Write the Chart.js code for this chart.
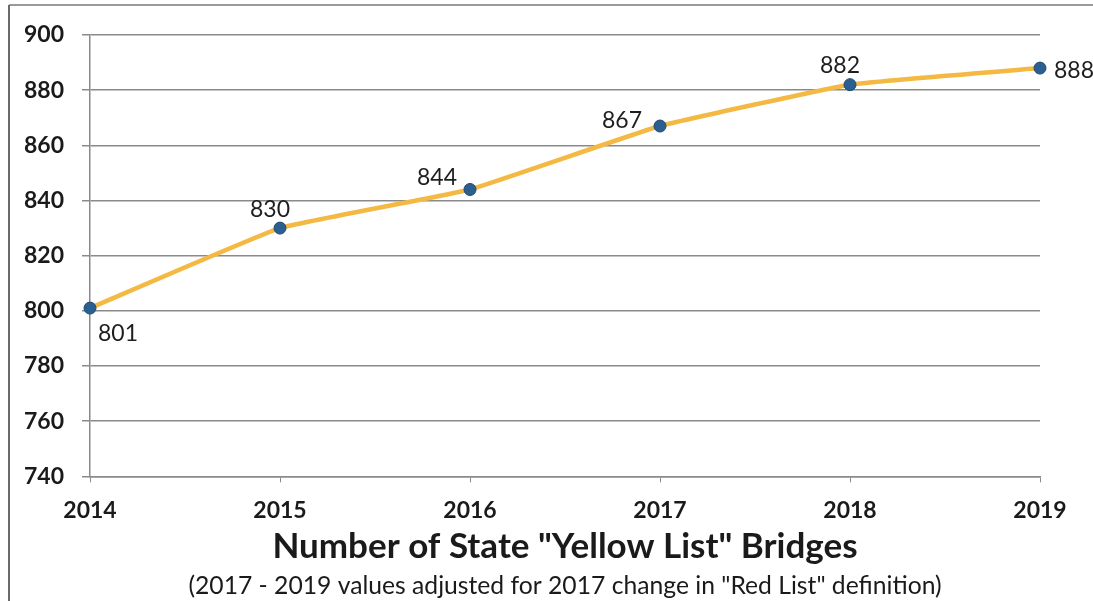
<!DOCTYPE html>
<html>
<head>
<meta charset="utf-8">
<title>Yellow List Bridges</title>
<script src="https://cdn.jsdelivr.net/npm/chart.js@4/dist/chart.umd.min.js"></script>
<style>
    html, body { margin: 0; padding: 0; background: #fff; }
    #wrap { width: 1093px; height: 601px; position: relative; }
</style>
</head>
<body>
<div id="wrap"><canvas id="bridgesChart"></canvas></div>
<script>
// chart data
const years = ['2014', '2015', '2016', '2017', '2018', '2019'];
const bridgeCounts = [801, 830, 844, 867, 882, 888];
const yTicks = [740, 760, 780, 800, 820, 840, 860, 880, 900];

// where each value label sits relative to its point
const labelPlacement = ['below-right', 'above', 'above-left', 'left', 'above', 'right'];

const FONT = 'Lato, "Open Sans", sans-serif';

// draws the value next to every point
const valueLabels = {
    id: 'valueLabels',
    afterDatasetsDraw(chart) {
        const ctx = chart.ctx;
        const meta = chart.getDatasetMeta(0);
        ctx.save();
        ctx.font = '23px ' + FONT;
        ctx.fillStyle = '#1e1e1e';
        ctx.textBaseline = 'middle';
        meta.data.forEach((pt, i) => {
            const text = String(chart.data.datasets[0].data[i]);
            let x = pt.x, y = pt.y;
            switch (labelPlacement[i]) {
                case 'below-right':
                    ctx.textAlign = 'left'; x += 8; y += 25; break;
                case 'above':
                    ctx.textAlign = 'center'; x -= 10; y -= 19; break;
                case 'above-left':
                    ctx.textAlign = 'right'; x -= 13; y -= 12; break;
                case 'left':
                    ctx.textAlign = 'right'; x -= 18; y -= 5; break;
                case 'right':
                    ctx.textAlign = 'left'; x += 14; y += 2; break;
            }
            ctx.fillText(text, x, y);
        });
        ctx.restore();
    }
};

// white page with the frame lines
const frame = {
    id: 'frame',
    beforeDraw(chart) {
        const ctx = chart.ctx;
        ctx.save();
        ctx.fillStyle = '#fff';
        ctx.fillRect(0, 0, chart.width, chart.height);
        ctx.lineWidth = 2;
        ctx.strokeStyle = '#9a9a9a';
        ctx.beginPath();
        ctx.moveTo(9, 5);
        ctx.lineTo(chart.width, 5);
        ctx.stroke();
        ctx.strokeStyle = '#6a6a6a';
        ctx.beginPath();
        ctx.moveTo(9, 5);
        ctx.lineTo(9, chart.height);
        ctx.stroke();
        ctx.restore();
    }
};

const ctx = document.getElementById('bridgesChart').getContext('2d');
new Chart(ctx, {
    type: 'line',
    data: {
        labels: years,
        datasets: [{
            label: 'Yellow List Bridges',
            data: bridgeCounts,
            borderColor: '#f4b942',
            borderWidth: 4.5,
            tension: 0.1,
            pointRadius: 6,
            pointBackgroundColor: '#2b5f90',
            pointBorderColor: '#1f4a75',
            pointBorderWidth: 1
        }]
    },
    options: {
        responsive: true,
        maintainAspectRatio: false,
        animation: false,
        layout: {
            padding: { left: 0, right: 53, top: 35, bottom: 0 }
        },
        plugins: {
            legend: { display: false },
            tooltip: { enabled: false },
            title: {
                display: true,
                position: 'bottom',
                fullSize: false,
                weight: 1000,
                text: 'Number of State "Yellow List" Bridges',
                color: '#1a1a1a',
                font: { family: FONT, size: 35, weight: 'bold' },
                padding: { top: 2, bottom: 0 }
            },
            subtitle: {
                display: true,
                position: 'bottom',
                fullSize: false,
                weight: 2000,
                text: '(2017 - 2019 values adjusted for 2017 change in "Red List" definition)',
                color: '#1a1a1a',
                font: { family: FONT, size: 24.7 },
                padding: { top: 4, bottom: 0 }
            }
        },
        scales: {
            x: {
                type: 'category',
                offset: false,
                afterFit(scale) { scale.height = 47; },
                grid: {
                    drawOnChartArea: false,
                    drawTicks: true,
                    tickLength: 6,
                    color: '#8a8a8a'
                },
                border: { color: '#8a8a8a', width: 1.5 },
                ticks: {
                    color: '#1a1a1a',
                    padding: 14,
                    maxRotation: 0,
                    font: { family: FONT, size: 23, weight: 'bold' }
                }
            },
            y: {
                min: 740,
                max: 900,
                afterFit(scale) { scale.width = 90; },
                afterBuildTicks(scale) {
                    scale.ticks = yTicks.map(v => ({ value: v }));
                },
                grid: {
                    color: '#8a8a8a',
                    lineWidth: 1.5,
                    tickLength: 8
                },
                border: { color: '#8a8a8a', width: 1.5 },
                ticks: {
                    color: '#1a1a1a',
                    padding: 18,
                    font: { family: FONT, size: 23, weight: 'bold' }
                }
            }
        }
    },
    plugins: [frame, valueLabels]
});
</script>
</body>
</html>
